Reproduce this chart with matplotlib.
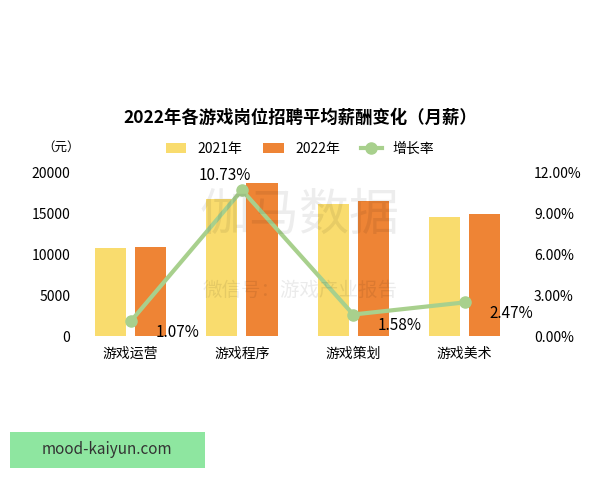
import matplotlib.pyplot as plt
import numpy as np
from matplotlib.patches import Rectangle

plt.rcParams['font.family'] = ['Noto Sans CJK SC', 'DejaVu Sans']

# ====== Data ====== #
CATEGORIES = ["游戏运营", "游戏程序", "游戏策划", "游戏美术"]
SALARY_2021 = [10800, 16800, 16200, 14600]
SALARY_2022 = [10900, 18700, 16500, 15000]
GROWTH = [1.07, 10.73, 1.58, 2.47]
GROWTH_LABELS = ["1.07%", "10.73%", "1.58%", "2.47%"]

YELLOW = "#F9DC6E"
ORANGE = "#EE8435"
GREEN = "#A8D08D"

fig = plt.figure(figsize=(6, 4.8), dpi=100)
ax = fig.add_axes([0.125, 0.30, 0.742, 0.34])
x = np.arange(len(CATEGORIES))
w = 0.28
ax.bar(x - 0.18, SALARY_2021, w, color=YELLOW, label="2021年")
ax.bar(x + 0.18, SALARY_2022, w, color=ORANGE, label="2022年")
ax.set_ylim(0, 20000)
ax.set_yticks([0, 5000, 10000, 15000, 20000])
ax.set_xlim(-0.5, 3.5)
ax.set_xticks(x)
ax.set_xticklabels(CATEGORIES, fontsize=11)
for s in ax.spines.values():
    s.set_visible(False)
ax.tick_params(length=0, labelsize=10)
ax.tick_params(axis='x', pad=8)

ax2 = ax.twinx()
ax2.plot(x, GROWTH, color=GREEN, lw=3, marker='o', ms=8, label="增长率")
ax2.set_ylim(0, 12)
ax2.set_yticks([0, 3, 6, 9, 12])
ax2.set_yticklabels(["0.00%", "3.00%", "6.00%", "9.00%", "12.00%"])
for s in ax2.spines.values():
    s.set_visible(False)
ax2.tick_params(length=0, labelsize=10, pad=10)

offsets = [(0.42, -0.8), (-0.15, 1.1), (0.42, -0.8), (0.42, -0.8)]
for i, lab in enumerate(GROWTH_LABELS):
    dx, dy = offsets[i]
    ax2.text(x[i] + dx, GROWTH[i] + dy, lab, fontsize=11, ha='center', va='center')

fig.text(0.5, 0.745, "2022年各游戏岗位招聘平均薪酬变化（月薪）", ha='center',
         fontsize=12.5, fontweight='bold')
fig.text(0.07, 0.685, "（元）", fontsize=9)

h1, l1 = ax.get_legend_handles_labels()
h2, l2 = ax2.get_legend_handles_labels()
fig.legend(h1 + h2, l1 + l2, loc='center', bbox_to_anchor=(0.5, 0.69), ncol=3,
           frameon=False, fontsize=10, handlelength=1.5, columnspacing=1.5)

# watermark
fig.text(0.5, 0.55, "伽马数据", ha='center', va='center', fontsize=36, color='#000000', alpha=0.07)
fig.text(0.5, 0.395, "微信号：游戏产业报告", ha='center', va='center', fontsize=14, color='#000000', alpha=0.08)

fig.patches.append(Rectangle((0.017, 0.025), 0.325, 0.075, transform=fig.transFigure,
                             fc='#8EE6A0', ec='none'))
fig.text(0.07, 0.0625, "mood-kaiyun.com", fontsize=11, color='#333333', va='center')

fig.savefig("out.png", dpi=100)
